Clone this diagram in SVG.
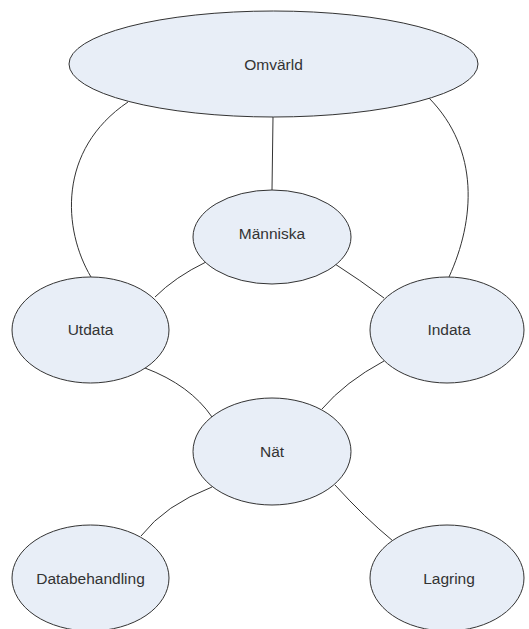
<svg xmlns="http://www.w3.org/2000/svg" width="529" height="629" viewBox="0 0 529 629">
<style>
.n ellipse{fill:#e8eef7;stroke:#333;stroke-width:1}
.n text{font-family:"Liberation Sans",Arial,sans-serif;font-size:15.5px;fill:#333;text-anchor:middle;dominant-baseline:central}
.c path{fill:none;stroke:#333;stroke-width:1}
</style>
<rect width="529" height="629" fill="#fff"/>
<g id="connectors" class="c">
<path d="M128,102 C57,150 63,230 91,277"/>
<path d="M273,117 L272,190"/>
<path d="M429,98 C480,150 475,220 449,277"/>
<path d="M206,262 Q175,277 155,297"/>
<path d="M335,264 Q360,280 384,298"/>
<path d="M145,368 Q190,385 212,417"/>
<path d="M384,361 Q345,382 322,409"/>
<path d="M212,487 Q165,505 141,536"/>
<path d="M335,485 Q365,518 393,541"/>
</g>
<g id="omvarld" class="n"><ellipse cx="273.5" cy="64" rx="204.5" ry="53"/><text x="273.5" y="64">Omvärld</text></g>
<g id="manniska" class="n"><ellipse cx="272" cy="237" rx="79" ry="47"/><text x="272" y="233">Människa</text></g>
<g id="utdata" class="n"><ellipse cx="90.5" cy="330" rx="78.5" ry="53"/><text x="90.5" y="329">Utdata</text></g>
<g id="indata" class="n"><ellipse cx="447" cy="330" rx="77" ry="53"/><text x="449" y="329">Indata</text></g>
<g id="nat" class="n"><ellipse cx="272" cy="451.5" rx="79" ry="53.5"/><text x="272" y="451">Nät</text></g>
<g id="databehandling" class="n"><ellipse cx="90.5" cy="578" rx="78.5" ry="53"/><text x="90.5" y="578">Databehandling</text></g>
<g id="lagring" class="n"><ellipse cx="447" cy="578" rx="77" ry="53"/><text x="449" y="578">Lagring</text></g>
</svg>
